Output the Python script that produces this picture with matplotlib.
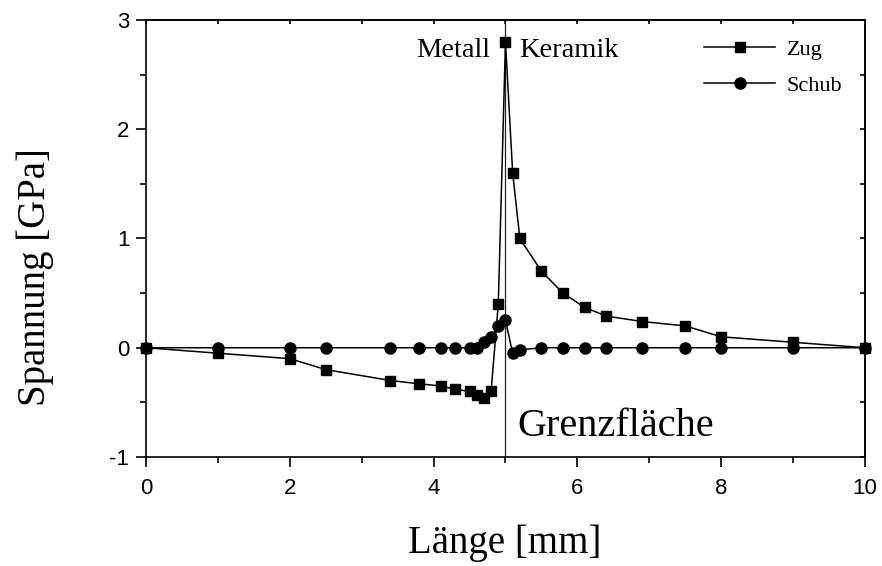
import numpy as np
import matplotlib.pyplot as plt
from matplotlib.ticker import MultipleLocator

plt.rcParams['axes.unicode_minus'] = False

# Zug (tension) - squares
zug_x = [0, 1, 2, 2.5, 3.4, 3.8, 4.1, 4.3, 4.5, 4.6, 4.7, 4.8, 4.9, 5.0, 5.1,
         5.2, 5.5, 5.8, 6.1, 6.4, 6.9, 7.5, 8, 9, 10]
zug_y = [0, -0.05, -0.1, -0.2, -0.3, -0.33, -0.35, -0.38, -0.4, -0.43, -0.46, -0.4, 0.4, 2.8, 1.6,
         1.0, 0.7, 0.5, 0.37, 0.29, 0.24, 0.2, 0.1, 0.05, 0]

# Schub (shear) - circles
schub_x = [0, 1, 2, 2.5, 3.4, 3.8, 4.1, 4.3, 4.5, 4.6, 4.7, 4.8, 4.9, 5.0, 5.1,
           5.2, 5.5, 5.8, 6.1, 6.4, 6.9, 7.5, 8, 9, 10]
schub_y = [0, 0, 0, 0, 0, 0, 0, 0, 0, 0, 0.05, 0.1, 0.2, 0.25, -0.05,
           -0.02, 0, 0, 0, 0, 0, 0, 0, 0, 0]

serif = ['Liberation Serif', 'DejaVu Serif']
sans = ['Liberation Sans', 'DejaVu Sans']

fig = plt.figure(figsize=(8.82, 5.66), dpi=100)
ax = fig.add_axes([0.1655, 0.1926, 0.8152, 0.7721])

ax.plot(zug_x, zug_y, color='black', lw=1.1, marker='s', ms=7.8, label='Zug', clip_on=False, zorder=3)
ax.plot(schub_x, schub_y, color='black', lw=1.1, marker='o', ms=8, label='Schub', clip_on=False, zorder=3)
ax.axvline(5, color='#222222', lw=0.9, zorder=2)

ax.set_xlim(0, 10)
ax.set_ylim(-1, 3)
ax.xaxis.set_major_locator(MultipleLocator(2))
ax.xaxis.set_minor_locator(MultipleLocator(1))
ax.yaxis.set_major_locator(MultipleLocator(1))
ax.yaxis.set_minor_locator(MultipleLocator(0.5))

# outward ticks on bottom/left, inward on top/right
ax.tick_params(which='both', direction='out', width=1.2, top=False, right=False)
ax.tick_params(which='major', length=7)
ax.tick_params(which='minor', length=4)
ax.tick_params(axis='x', labelsize=16, pad=8)
ax.tick_params(axis='y', labelsize=16, pad=5)
for lab in ax.get_xticklabels() + ax.get_yticklabels():
    lab.set_family(sans)

ax2 = ax.secondary_xaxis('top')
ax2.xaxis.set_major_locator(MultipleLocator(1))
ax2.tick_params(direction='in', length=3, width=1.2, labeltop=False)
ax3 = ax.secondary_yaxis('right')
ax3.yaxis.set_major_locator(MultipleLocator(0.5))
ax3.tick_params(direction='in', length=3.5, width=1.2, labelright=False)

for s in list(ax.spines.values()):
    s.set_linewidth(1.2)
ax2.spines['top'].set_linewidth(1.2)
ax3.spines['right'].set_linewidth(1.2)

# axis titles placed on the figure
fig.text(504.5 / 882, 13 / 566, 'Länge [mm]', family=serif, fontsize=28,
         ha='center', va='baseline')
fig.text(45 / 882, 1 - 277 / 566, 'Spannung [GPa]', family=serif, fontsize=28,
         rotation=90, rotation_mode='anchor', ha='center', va='baseline')

ax.text(4.79, 2.66, 'Metall', family=serif, fontsize=20.5, ha='right', va='baseline')
ax.text(5.19, 2.66, 'Keramik', family=serif, fontsize=20.5, ha='left', va='baseline')
ax.text(5.16, -0.805, 'Grenzfläche', family=serif, fontsize=29, ha='left', va='baseline')

leg = ax.legend(loc='upper right', frameon=False, prop={'family': serif, 'size': 16},
                handlelength=3.2, handletextpad=0.5, labelspacing=0.68,
                bbox_to_anchor=(0.996, 1.0015))

fig.savefig('out.png', dpi=100)
